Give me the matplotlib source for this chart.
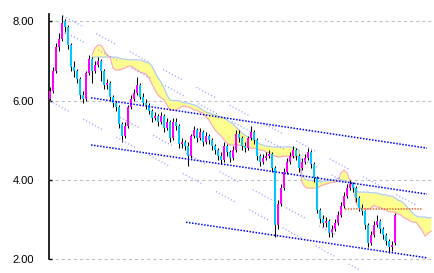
"""Daily candlestick chart with ichimoku cloud and trend channel lines."""

from __future__ import annotations

import matplotlib

matplotlib.use("Agg")
import matplotlib.pyplot as plt

OUTPUT_PATH = "out.png"

# candles, one per trading day (x = bar index)
OPENS = [
    6.05, 6.25, 6.75, 7.35, 7.55, 8.00, 7.85, 7.40, 6.85, 6.75,
    6.55, 6.15, 6.05, 6.70, 7.05, 6.75, 6.90, 7.00, 6.75, 6.40,
    6.45, 6.10, 5.95, 5.85, 5.40, 5.10, 5.35, 5.85, 6.05, 6.20,
    6.40, 6.10, 5.95, 5.90, 5.75, 5.55, 5.60, 5.45, 5.60, 5.30,
    5.45, 5.05, 5.45, 5.35, 4.90, 4.95, 4.85, 4.60, 5.10, 5.25,
    5.05, 5.20, 4.95, 5.10, 5.00, 4.85, 4.75, 4.60, 4.50, 4.85,
    4.70, 4.55, 4.75, 5.15, 5.05, 4.85, 4.80, 5.05, 5.20, 5.00,
    4.60, 4.45, 4.55, 4.60, 4.65, 4.30, 2.85, 3.40, 3.80, 4.20,
    4.45, 4.60, 4.75, 4.60, 4.30, 4.45, 4.55, 4.70, 4.40, 4.05,
    3.25, 3.00, 2.90, 2.95, 2.65, 2.75, 2.90, 3.10, 3.35, 3.60,
    3.80, 3.90, 3.80, 3.55, 3.30, 3.20, 2.85, 2.40, 2.60, 2.85,
    2.95, 2.75, 2.60, 2.45, 2.30, 2.40,
]
CLOSES = [
    6.25, 6.75, 7.35, 7.55, 7.95, 7.85, 7.40, 6.85, 6.75, 6.55,
    6.15, 6.05, 6.70, 7.05, 6.75, 6.90, 7.00, 6.75, 6.40, 6.45,
    6.10, 5.95, 5.85, 5.40, 5.10, 5.35, 5.85, 6.05, 6.20, 6.40,
    6.10, 5.95, 5.90, 5.75, 5.55, 5.60, 5.45, 5.60, 5.30, 5.45,
    5.05, 5.45, 5.35, 4.90, 4.95, 4.85, 4.60, 5.10, 5.25, 5.05,
    5.20, 4.95, 5.10, 5.00, 4.85, 4.75, 4.60, 4.50, 4.85, 4.70,
    4.55, 4.75, 5.15, 5.05, 4.85, 4.80, 5.05, 5.20, 5.00, 4.60,
    4.45, 4.55, 4.60, 4.65, 4.30, 2.85, 3.40, 3.80, 4.20, 4.45,
    4.60, 4.75, 4.60, 4.30, 4.45, 4.55, 4.70, 4.40, 4.05, 3.25,
    3.00, 2.90, 2.95, 2.65, 2.75, 2.90, 3.10, 3.35, 3.60, 3.80,
    3.90, 3.80, 3.55, 3.30, 3.20, 2.85, 2.40, 2.60, 2.85, 2.95,
    2.75, 2.60, 2.45, 2.30, 2.35, 3.10,
]
HIGHS = [
    6.35, 6.85, 7.45, 7.70, 8.15, 8.05, 7.90, 7.45, 7.00, 6.80,
    6.60, 6.25, 6.75, 7.15, 7.10, 7.00, 7.10, 7.05, 6.80, 6.55,
    6.50, 6.15, 6.00, 5.90, 5.45, 5.45, 5.90, 6.15, 6.30, 6.60,
    6.45, 6.20, 6.05, 5.95, 5.80, 5.70, 5.65, 5.70, 5.65, 5.55,
    5.50, 5.55, 5.55, 5.40, 5.05, 5.00, 4.95, 5.15, 5.35, 5.30,
    5.30, 5.25, 5.20, 5.15, 5.05, 4.90, 4.80, 4.70, 4.95, 4.90,
    4.75, 4.85, 5.25, 5.25, 5.10, 4.95, 5.10, 5.35, 5.25, 5.05,
    4.65, 4.65, 4.70, 4.75, 4.70, 4.35, 3.50, 3.90, 4.30, 4.55,
    4.70, 4.85, 4.80, 4.65, 4.55, 4.65, 4.80, 4.75, 4.45, 4.10,
    3.30, 3.10, 3.05, 3.00, 2.85, 3.00, 3.20, 3.45, 3.70, 3.90,
    4.00, 3.95, 3.85, 3.60, 3.40, 3.25, 2.90, 2.70, 2.95, 3.10,
    3.00, 2.80, 2.65, 2.50, 2.45, 3.15,
]
LOWS = [
    6.00, 6.20, 6.70, 7.25, 7.50, 7.70, 7.30, 6.75, 6.60, 6.45,
    6.05, 5.95, 6.00, 6.65, 6.45, 6.70, 6.85, 6.50, 6.30, 6.30,
    6.00, 5.85, 5.75, 5.30, 4.95, 5.05, 5.30, 5.80, 6.00, 6.15,
    6.05, 5.90, 5.80, 5.65, 5.45, 5.50, 5.35, 5.40, 5.20, 5.25,
    4.95, 5.00, 5.25, 4.80, 4.80, 4.75, 4.35, 4.55, 5.05, 4.95,
    5.00, 4.85, 4.90, 4.90, 4.75, 4.65, 4.50, 4.40, 4.45, 4.60,
    4.45, 4.50, 4.70, 4.95, 4.75, 4.70, 4.75, 5.00, 4.90, 4.50,
    4.35, 4.40, 4.50, 4.55, 4.20, 2.55, 2.75, 3.35, 3.75, 4.15,
    4.40, 4.55, 4.50, 4.20, 4.25, 4.40, 4.50, 4.30, 3.95, 3.15,
    2.90, 2.80, 2.80, 2.55, 2.55, 2.70, 2.85, 3.05, 3.30, 3.55,
    3.75, 3.70, 3.45, 3.20, 3.10, 2.75, 2.30, 2.35, 2.55, 2.80,
    2.65, 2.50, 2.35, 2.15, 2.20, 2.35,
]

# ichimoku cloud (leading spans, shifted past the last candle)
CLOUD_X = list(range(14, 128))
SPAN_A = [
    7.10, 7.10, 7.10, 7.10, 7.10, 7.10, 7.10, 7.10, 7.10, 7.08,
    7.05, 7.05, 7.03, 7.03, 7.03, 7.03, 7.03, 7.00, 6.97, 6.95,
    6.87, 6.72, 6.57, 6.47, 6.32, 6.14, 6.02, 6.00, 6.00, 6.00,
    5.96, 5.94, 5.94, 5.91, 5.89, 5.86, 5.81, 5.76, 5.71, 5.69,
    5.66, 5.64, 5.61, 5.59, 5.56, 5.51, 5.46, 5.41, 5.33, 5.26,
    5.18, 5.13, 5.08, 5.06, 5.01, 4.95, 4.90, 4.88, 4.85, 4.85,
    4.83, 4.83, 4.83, 4.83, 4.83, 4.83, 4.83, 4.80, 4.80, 4.75,
    4.12, 4.02, 3.99, 3.99, 3.97, 3.97, 3.94, 3.97, 3.97, 3.99,
    3.99, 3.99, 4.05, 3.99, 3.99, 3.97, 3.94, 3.87, 3.72, 3.69,
    3.69, 3.69, 3.69, 3.67, 3.67, 3.67, 3.64, 3.62, 3.62, 3.59,
    3.59, 3.54, 3.49, 3.46, 3.41, 3.31, 3.24, 3.14, 3.09, 3.06,
    3.06, 3.06, 3.04, 3.04,
]
SPAN_B = [
    7.15, 7.33, 7.40, 7.40, 7.28, 7.15, 7.10, 6.82, 6.77, 6.77,
    6.80, 6.82, 6.87, 6.87, 6.82, 6.77, 6.72, 6.70, 6.67, 6.57,
    6.42, 6.27, 6.14, 6.07, 6.02, 5.89, 5.76, 5.76, 5.76, 5.81,
    5.86, 5.86, 5.84, 5.81, 5.76, 5.76, 5.71, 5.69, 5.59, 5.51,
    5.38, 5.26, 5.18, 5.11, 5.01, 4.93, 4.88, 4.88, 4.88, 4.88,
    4.85, 4.83, 4.83, 4.80, 4.80, 4.78, 4.75, 4.75, 4.70, 4.68,
    4.63, 4.60, 4.58, 4.58, 4.60, 4.60, 4.60, 4.58, 4.58, 4.58,
    3.94, 3.82, 3.79, 3.79, 3.79, 3.79, 3.84, 3.87, 3.89, 3.92,
    3.94, 3.94, 3.97, 4.17, 4.25, 4.17, 3.97, 3.79, 3.41, 3.31,
    3.26, 3.26, 3.26, 3.29, 3.36, 3.31, 3.31, 3.26, 3.24, 3.19,
    3.19, 3.19, 3.14, 3.11, 3.04, 3.01, 2.96, 2.93, 2.93, 2.83,
    2.73, 2.58, 2.65, 2.70,
]

# trend channel (dark blue) and steeper guide lines (light blue), as (x0, x1), (y0, y1)
CHANNEL_LINES = [
    ((13.67, 125.67), (6.07, 4.80)),
    ((13.67, 125.67), (4.88, 3.64)),
    ((45.33, 125.67), (2.93, 2.03)),
]
GUIDE_LINES = [
    ((4.33, 125.0), (8.14, 3.24)),
    ((5.0, 98.33), (7.73, 3.94)),
    ((0.0, 103.33), (5.99, 1.72)),
    ((23.33, 95.0), (5.58, 2.62)),
]
RESISTANCE_X = (98.3, 124.0)
RESISTANCE_Y = 3.26

Y_TICKS = [2.0, 4.0, 6.0, 8.0]
Y_TICK_LABELS = ["2.00", "4.00", "6.00", "8.00"]

UP_COLOR = "#ff00ff"
DOWN_COLOR = "#00c8ff"


def draw_cloud(ax) -> None:
    ax.fill_between(CLOUD_X, SPAN_A, SPAN_B, color="#ffff90", linewidth=0, zorder=1)
    ax.plot(CLOUD_X, SPAN_A, color="#a8c8f0", linewidth=0.8, zorder=1.5)
    ax.plot(CLOUD_X, SPAN_B, color="#ffa0c0", linewidth=0.8, zorder=1.5)


def draw_candles(ax) -> None:
    xs = list(range(len(CLOSES)))
    ax.vlines(xs, LOWS, HIGHS, color="black", linewidth=0.75, zorder=2)
    heights = []
    bottoms = []
    colors = []
    for o, c in zip(OPENS, CLOSES):
        heights.append(max(abs(c - o), 0.05))
        bottoms.append(min(o, c))
        colors.append(UP_COLOR if c >= o else DOWN_COLOR)
    ax.bar(xs, heights, bottom=bottoms, width=0.9, color=colors, linewidth=0, zorder=3)


def draw_lines(ax) -> None:
    guide_dash = (0, [0.72, 1.7] * 6 + [0.72, 12.0])
    for xs, ys in GUIDE_LINES:
        ax.plot(xs, ys, color="#9a9aff", linewidth=1.0, linestyle=guide_dash,
                zorder=4, clip_on=False)
    for xs, ys in CHANNEL_LINES:
        ax.plot(xs, ys, color="#0000ff", linewidth=1.1, linestyle=(0, (1.1, 1.1)), zorder=4)
    ax.plot(RESISTANCE_X, [RESISTANCE_Y, RESISTANCE_Y], color="#e0602a",
            linewidth=1.1, linestyle=(0, (1.0, 1.0)), zorder=4)


def style_axes(ax) -> None:
    ax.set_xlim(-0.33, 127.33)
    ax.set_ylim(1.7, 8.19)
    for side in ("top", "right", "bottom"):
        ax.spines[side].set_visible(False)
    ax.spines["left"].set_bounds(2.0, 8.19)
    ax.spines["left"].set_linewidth(1.2)
    ax.set_xticks([])
    ax.set_yticks(Y_TICKS)
    ax.set_yticklabels(Y_TICK_LABELS,
                       fontfamily=["Liberation Sans Narrow", "Liberation Sans", "DejaVu Sans"],
                       fontsize=8)
    ax.tick_params(axis="y", direction="in", length=2.5, width=1.0, pad=11)
    ax.grid(axis="y", color="#c0c0c0", linewidth=0.8, linestyle=(0, (2.2, 2.2)))
    ax.set_axisbelow(True)


def main() -> None:
    plt.rcParams["lines.scale_dashes"] = False
    fig = plt.figure(figsize=(4.34, 2.73), dpi=100)
    ax = fig.add_axes([49 / 434, 0.0077, 383 / 434, 0.9414])
    draw_cloud(ax)
    draw_candles(ax)
    draw_lines(ax)
    style_axes(ax)
    fig.savefig(OUTPUT_PATH, dpi=100, facecolor="white")
    plt.close(fig)


if __name__ == "__main__":
    main()
